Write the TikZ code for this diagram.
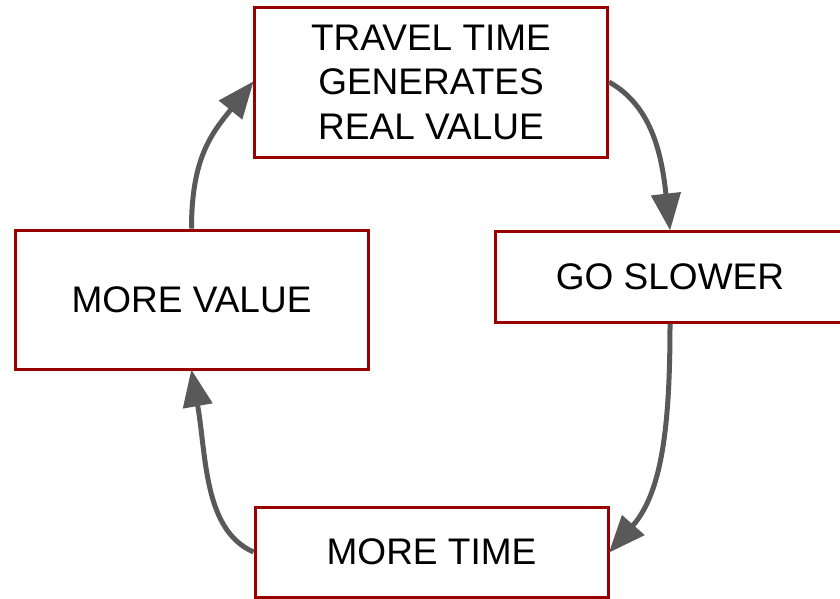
\documentclass[tikz,border=0pt]{standalone}
\usepackage{fontspec}
\setmainfont{Liberation Sans}
\usetikzlibrary{arrows.meta}
\definecolor{boxred}{HTML}{990000}
\definecolor{arrgray}{HTML}{595959}
\begin{document}
\begin{tikzpicture}[x=1pt,y=-1pt,
  box/.style={draw=boxred, line width=3pt, fill=white, align=center, inner sep=0pt,
    font=\fontsize{37}{44.5}\selectfont},
  conn/.style={draw=arrgray, line width=5pt, -{Triangle[length=37pt,width=29pt]}, shorten >=-1pt}]
\useasboundingbox (0,0) rectangle (840,598);
\clip (0,0) rectangle (840,598);
\node[box, minimum width=353pt, minimum height=150pt] (top) at (431,82) {TRAVEL TIME\\GENERATES\\REAL VALUE};
\node[box, minimum width=353pt, minimum height=139pt] (left) at (191.5,299.5) {MORE VALUE};
\node[box, minimum width=350pt, minimum height=91pt] (right) at (670,276.5) {GO SLOWER};
\node[box, minimum width=353pt, minimum height=90pt] (bottom) at (431.5,552) {MORE TIME};
\draw[conn] (left.north) .. controls +(0,-71) and +(-41,51) .. (top.west);
\draw[conn] (top.east) .. controls +(45,25) and +(-8,-70) .. (right.north);
\draw[conn] (right.south) .. controls +(0,100) and +(53,-60) .. (bottom.east);
\draw[conn] (bottom.west) .. controls +(-50,-22) and +(15,85) .. (left.south);
\end{tikzpicture}
\end{document}
